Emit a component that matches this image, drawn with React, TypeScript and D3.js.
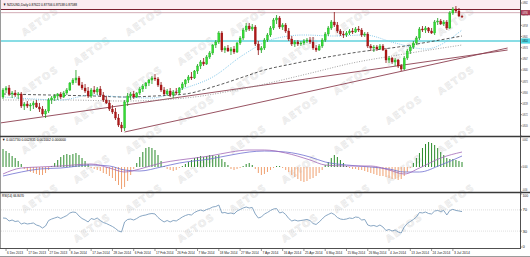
import React from "react";
import * as d3 from "d3";

// ---- Candles: [open, high, low, close] ----
const ohlc: [number, number, number, number][] = [
  [0.8278,0.8332,0.8266,0.8320],[0.8320,0.8344,0.8302,0.8332],[0.8332,0.8350,0.8284,0.8296],[0.8296,0.8314,0.8272,0.8302],
  [0.8302,0.8320,0.8278,0.8290],[0.8290,0.8308,0.8266,0.8296],[0.8296,0.8308,0.8212,0.8224],[0.8224,0.8248,0.8200,0.8236],
  [0.8236,0.8254,0.8212,0.8224],[0.8224,0.8242,0.8194,0.8230],[0.8230,0.8254,0.8206,0.8242],[0.8242,0.8260,0.8212,0.8218],
  [0.8218,0.8242,0.8188,0.8206],[0.8206,0.8224,0.8164,0.8176],[0.8176,0.8206,0.8152,0.8194],[0.8194,0.8272,0.8182,0.8260],
  [0.8260,0.8284,0.8236,0.8272],[0.8272,0.8296,0.8254,0.8284],[0.8284,0.8302,0.8260,0.8296],[0.8296,0.8308,0.8266,0.8278],
  [0.8278,0.8314,0.8272,0.8302],[0.8302,0.8332,0.8290,0.8320],[0.8320,0.8368,0.8314,0.8362],[0.8362,0.8392,0.8350,0.8380],
  [0.8380,0.8440,0.8362,0.8392],[0.8392,0.8404,0.8344,0.8350],[0.8350,0.8368,0.8320,0.8332],[0.8332,0.8356,0.8302,0.8314],
  [0.8314,0.8338,0.8272,0.8284],[0.8284,0.8332,0.8272,0.8320],[0.8320,0.8344,0.8296,0.8308],[0.8308,0.8338,0.8290,0.8326],
  [0.8326,0.8344,0.8278,0.8290],[0.8290,0.8308,0.8248,0.8260],[0.8260,0.8284,0.8236,0.8242],[0.8242,0.8260,0.8194,0.8206],
  [0.8206,0.8230,0.8176,0.8188],[0.8188,0.8212,0.8140,0.8152],[0.8152,0.8176,0.8098,0.8110],[0.8110,0.8128,0.8068,0.8092],
  [0.8092,0.8260,0.8074,0.8248],[0.8248,0.8302,0.8224,0.8284],[0.8284,0.8308,0.8260,0.8296],[0.8296,0.8314,0.8266,0.8278],
  [0.8278,0.8308,0.8272,0.8302],[0.8302,0.8338,0.8290,0.8326],[0.8326,0.8356,0.8308,0.8344],[0.8344,0.8368,0.8326,0.8362],
  [0.8362,0.8386,0.8344,0.8380],[0.8380,0.8404,0.8356,0.8392],[0.8392,0.8416,0.8374,0.8386],[0.8386,0.8398,0.8338,0.8350],
  [0.8350,0.8368,0.8308,0.8320],[0.8320,0.8338,0.8284,0.8296],[0.8296,0.8326,0.8284,0.8314],[0.8314,0.8332,0.8278,0.8290],
  [0.8290,0.8320,0.8272,0.8308],[0.8308,0.8332,0.8290,0.8302],[0.8302,0.8338,0.8290,0.8332],[0.8332,0.8368,0.8320,0.8356],
  [0.8356,0.8386,0.8338,0.8380],[0.8380,0.8410,0.8362,0.8398],[0.8398,0.8428,0.8380,0.8392],[0.8392,0.8440,0.8386,0.8434],
  [0.8434,0.8476,0.8416,0.8464],[0.8464,0.8500,0.8446,0.8488],[0.8488,0.8512,0.8464,0.8476],[0.8476,0.8530,0.8470,0.8518],
  [0.8518,0.8554,0.8506,0.8542],[0.8542,0.8596,0.8530,0.8590],[0.8590,0.8620,0.8572,0.8608],[0.8608,0.8674,0.8596,0.8662],
  [0.8662,0.8674,0.8548,0.8560],[0.8560,0.8584,0.8542,0.8572],[0.8572,0.8590,0.8548,0.8554],[0.8554,0.8578,0.8530,0.8566],
  [0.8566,0.8584,0.8536,0.8548],[0.8548,0.8608,0.8542,0.8602],[0.8602,0.8644,0.8590,0.8632],[0.8632,0.8692,0.8620,0.8680],
  [0.8680,0.8722,0.8668,0.8704],[0.8704,0.8722,0.8674,0.8686],[0.8686,0.8716,0.8674,0.8698],[0.8698,0.8710,0.8584,0.8596],
  [0.8596,0.8614,0.8530,0.8560],[0.8560,0.8584,0.8542,0.8572],[0.8572,0.8632,0.8560,0.8620],[0.8620,0.8662,0.8608,0.8650],
  [0.8650,0.8704,0.8638,0.8692],[0.8692,0.8752,0.8680,0.8740],[0.8740,0.8770,0.8716,0.8752],[0.8752,0.8764,0.8686,0.8698],
  [0.8698,0.8722,0.8680,0.8710],[0.8710,0.8722,0.8662,0.8674],[0.8674,0.8692,0.8614,0.8626],[0.8626,0.8644,0.8584,0.8596],
  [0.8596,0.8620,0.8578,0.8608],[0.8608,0.8620,0.8584,0.8596],[0.8596,0.8614,0.8584,0.8602],[0.8602,0.8626,0.8590,0.8614],
  [0.8614,0.8632,0.8602,0.8620],[0.8620,0.8638,0.8596,0.8608],[0.8608,0.8638,0.8560,0.8572],[0.8572,0.8590,0.8548,0.8560],
  [0.8560,0.8596,0.8554,0.8584],[0.8584,0.8632,0.8572,0.8620],[0.8620,0.8668,0.8608,0.8656],[0.8656,0.8704,0.8644,0.8692],
  [0.8692,0.8740,0.8680,0.8728],[0.8728,0.8788,0.8698,0.8710],[0.8710,0.8728,0.8662,0.8674],[0.8674,0.8686,0.8644,0.8656],
  [0.8656,0.8674,0.8632,0.8650],[0.8650,0.8674,0.8638,0.8662],[0.8662,0.8686,0.8650,0.8674],[0.8674,0.8692,0.8656,0.8668],
  [0.8668,0.8698,0.8662,0.8686],[0.8686,0.8704,0.8668,0.8680],[0.8680,0.8692,0.8638,0.8650],[0.8650,0.8668,0.8638,0.8656],
  [0.8656,0.8668,0.8572,0.8584],[0.8584,0.8596,0.8554,0.8572],[0.8572,0.8590,0.8548,0.8578],[0.8578,0.8590,0.8554,0.8566],
  [0.8566,0.8596,0.8560,0.8584],[0.8584,0.8596,0.8554,0.8560],[0.8560,0.8572,0.8482,0.8500],[0.8500,0.8524,0.8482,0.8512],
  [0.8512,0.8518,0.8476,0.8488],[0.8488,0.8512,0.8464,0.8500],[0.8500,0.8506,0.8452,0.8464],[0.8464,0.8476,0.8434,0.8446],
  [0.8446,0.8524,0.8440,0.8512],[0.8512,0.8566,0.8500,0.8554],[0.8554,0.8590,0.8536,0.8578],[0.8578,0.8614,0.8566,0.8602],
  [0.8602,0.8644,0.8590,0.8632],[0.8632,0.8698,0.8620,0.8686],[0.8686,0.8704,0.8668,0.8680],[0.8680,0.8704,0.8662,0.8692],
  [0.8692,0.8698,0.8662,0.8674],[0.8674,0.8692,0.8656,0.8662],[0.8662,0.8740,0.8650,0.8728],[0.8728,0.8752,0.8710,0.8734],
  [0.8734,0.8746,0.8710,0.8716],[0.8716,0.8740,0.8704,0.8728],[0.8728,0.8740,0.8680,0.8692],[0.8692,0.8794,0.8686,0.8782],
  [0.8782,0.8818,0.8770,0.8806],[0.8806,0.8824,0.8782,0.8794],[0.8794,0.8812,0.8758,0.8764],[0.87622,0.87706,0.87538,0.87588],
];

// ---- Moving averages (sparse readings: bar index -> price) ----
const maFastIdx = [0, 10, 19, 29, 39, 49, 59, 69, 79, 89, 99, 109, 119, 129, 139, 151];
const maFast = [0.8278, 0.8266, 0.8260, 0.8290, 0.8278, 0.8272, 0.8326, 0.8398, 0.8530, 0.8626, 0.8650, 0.8644, 0.8650, 0.8602, 0.8566, 0.8680];
const maMidIdx = [0, 15, 30, 40, 50, 60, 70, 80, 86, 95, 105, 117, 130, 140, 151];
const maMid = [0.8296, 0.8290, 0.8284, 0.8278, 0.8284, 0.8296, 0.8344, 0.8404, 0.8440, 0.8476, 0.8512, 0.8548, 0.8578, 0.8608, 0.8644];
const maSlowIdx = [0, 20, 40, 60, 80, 100, 115, 130, 151];
const maSlow = [0.8260, 0.8260, 0.8254, 0.8272, 0.8332, 0.8416, 0.8482, 0.8530, 0.8590];

// ---- Trend lines and horizontal levels ----
const trendA: [number, number][] = [[-1, 0.8122], [166, 0.856]];
const trendB: [number, number][] = [[40, 0.8068], [166, 0.8572]];
const levelTop = 0.8803;
const levelTop2 = 0.8784;
const levelCyan = 0.8614;

// ---- MACD ----
const macdHist = [
  0.0036,0.0032,0.0028,0.0022,0.0018,0.0012,0.0006,-0.0004,-0.0008,-0.0010,
  -0.0012,-0.0014,-0.0016,-0.0016,-0.0012,-0.0006,0.0002,0.0008,0.0014,0.0020,
  0.0024,0.0026,0.0024,0.0026,0.0028,0.0024,0.0018,0.0012,0.0006,-0.0002,
  -0.0004,-0.0006,-0.0008,-0.0012,-0.0014,-0.0018,-0.0022,-0.0028,-0.0036,-0.0044,
  -0.0040,-0.0028,-0.0016,-0.0004,0.0008,0.0020,0.0030,0.0038,0.0040,0.0038,
  0.0034,0.0024,0.0012,0.0002,-0.0004,-0.0006,-0.0008,-0.0006,-0.0002,0.0002,
  0.0006,0.0010,0.0014,0.0018,0.0020,0.0022,0.0020,0.0022,0.0024,0.0024,
  0.0022,0.0024,0.0016,0.0010,0.0004,-0.0004,-0.0006,-0.0004,-0.0002,0.0002,
  0.0006,0.0008,0.0004,-0.0004,-0.0012,-0.0016,-0.0014,-0.0010,-0.0006,-0.0002,
  0.0002,0.0002,-0.0002,-0.0006,-0.0010,-0.0016,-0.0020,-0.0024,-0.0028,-0.0030,
  -0.0028,-0.0024,-0.0022,-0.0018,-0.0012,-0.0006,0.0004,0.0010,0.0018,0.0024,
  0.0020,0.0014,0.0008,0.0002,-0.0002,-0.0004,-0.0004,-0.0006,-0.0006,-0.0008,
  -0.0010,-0.0012,-0.0014,-0.0016,-0.0018,-0.0018,-0.0020,-0.0022,-0.0024,-0.0024,
  -0.0026,-0.0024,-0.0018,-0.0010,-0.0002,0.0008,0.0018,0.0028,0.0038,0.0046,
  0.0050,0.0048,0.0044,0.0038,0.0030,0.0024,0.0018,0.0016,0.0016,0.0014,
  0.0012,0.0010,
];
const macdLineIdx = [0, 6, 12, 19, 29, 35, 40, 45, 52, 58, 68, 75, 81, 86, 93, 101, 106, 113, 121, 127, 132, 137, 144, 151];
const macdMain = [-0.0014,-0.0002,0,0.0002,0.0006,-0.0002,-0.0010,-0.0004,0.0008,0.0014,0.0022,0.0030,0.0034,0.0034,0.0028,0.0014,0.0004,0.0002,0.0002,-0.0006,-0.0014,-0.0002,0.0018,0.0030];
const macdSignal = [-0.0018,-0.0010,-0.0004,-0.0002,0.0004,0.0002,-0.0006,-0.0008,0,0.0008,0.0016,0.0024,0.0030,0.0032,0.0030,0.0020,0.0010,0.0004,0,-0.0004,-0.0010,-0.0010,0.0004,0.0022];

// ---- RSI(14) ----
const rsi = [
  54.7,54.2,49.1,50.9,48.1,49.1,43.4,45.3,43.4,44.3,
  45.3,41.5,39.6,35.8,39.6,50.0,52.8,54.7,56.6,53.8,
  56.6,59.4,64.2,66.0,65.1,58.5,53.8,50.9,47.2,53.8,
  51.9,54.7,50.0,46.2,44.3,41.5,38.7,34.9,30.2,28.3,
  47.2,51.9,52.8,50.9,53.8,57.5,59.4,60.4,62.3,63.2,
  62.3,55.7,50.9,47.2,50.0,47.2,50.0,49.1,52.8,56.6,
  59.4,61.3,60.4,65.1,67.9,69.8,67.9,70.8,72.6,75.5,
  76.4,79.2,64.2,65.1,63.2,64.2,62.3,67.9,70.8,73.6,
  75.5,73.6,74.5,62.3,54.7,56.6,62.3,65.1,68.9,71.7,
  72.6,64.2,66.0,61.3,53.8,49.1,50.9,49.1,50.0,50.9,
  51.9,50.0,44.3,42.5,47.2,52.8,58.5,61.3,64.2,61.3,
  55.7,52.8,51.9,52.8,54.7,53.8,56.6,55.7,50.9,51.9,
  41.5,39.6,40.6,38.7,41.5,37.7,31.1,33.0,30.2,32.1,
  28.3,26.4,37.7,44.3,48.1,51.9,56.6,65.1,64.2,66.0,
  63.2,62.3,67.9,68.9,67.0,68.9,60.4,68.9,71.1,68.9,
  68.0,66.8,
];

// ---- Axis labels ----
const priceTicks = [0.8842, 0.8775, 0.8708, 0.8641, 0.8574, 0.8507, 0.844, 0.8373, 0.8306, 0.8239, 0.8172, 0.8105];
const macdTicks = [0.0062, 0, -0.005];
const macdTickLabels = ["0.0062", "0.00", "-0.0050"];
const rsiTicks = [100, 70, 30, 0];
const dateIdx = [1, 8, 15, 22, 29, 36, 43, 50, 57, 64, 71, 78, 85, 92, 99, 106, 113, 120, 127, 134, 141, 148];
const dateLabels = [
  "6 Dec 2013", "17 Dec 2013", "27 Dec 2013", "8 Jan 2014", "17 Jan 2014", "28 Jan 2014", "6 Feb 2014",
  "17 Feb 2014", "26 Feb 2014", "7 Mar 2014", "18 Mar 2014", "27 Mar 2014", "7 Apr 2014", "16 Apr 2014",
  "25 Apr 2014", "6 May 2014", "15 May 2014", "26 May 2014", "4 Jun 2014", "13 Jun 2014", "24 Jun 2014", "3 Jul 2014",
];

const FONT = "'Liberation Sans', Arial, sans-serif";

export default function App() {
  const W = 530;
  const H = 257;
  const n = ohlc.length;
  const AX = 520;
  const x = d3.scaleLinear().domain([0, n - 1]).range([3, 462]);
  const yP = d3.scaleLinear().domain([0.8062, 0.886]).range([133, 0]);
  const yM = d3.scaleLinear().domain([-0.005, 0.0062]).range([192, 136]);
  const yR = d3.scaleLinear().domain([0, 100]).range([247, 194]);

  const sparse = (idx: number[], vals: number[], ys: any) =>
    d3.line<number>().x((_, k) => x(idx[k])).y((v) => ys(v)).curve(d3.curveMonotoneX)(vals) || "";
  const seg = (pts: [number, number][]) =>
    d3.line<[number, number]>().x((d) => x(d[0])).y((d) => yP(d[1]))(pts) || "";
  const rsiPath = d3.line<number>().x((_, i) => x(i)).y((v) => yR(v))(rsi) || "";

  const marks: JSX.Element[] = [];
  for (let r = 0; r < 8; r++) {
    for (let c = 0; c < 5; c++) {
      const cx = 42 + 104 * c + (r % 2) * 52;
      const cy = 24 + 29.5 * r;
      if (cx > 505) continue;
      marks.push(
        <text key={`w${r}-${c}`} transform={`translate(${cx},${cy}) rotate(-35)`} textAnchor="middle"
          fontFamily="'DejaVu Sans', sans-serif" fontWeight="bold" fontSize={9.5} letterSpacing={1.5}
          fill="#f3f3f3" stroke="#e2e2e2" strokeWidth={0.35}>AETOS</text>
      );
    }
  }

  // right-axis labels: horizontally compressed into the narrow strip right of the axis
  const axisText = (key: string, y: number, label: string, fill = "#222") => {
    const natural = label.length * 2.35;
    const sx = Math.min(1, 5.8 / natural);
    return (
      <text key={key} transform={`translate(${AX + 2.4},${y}) scale(${sx},1)`} fontFamily={FONT}
        fontSize={4.2} fill={fill}>{label}</text>
    );
  };

  return (
    <svg width={W} height={H} style={{ position: "absolute", left: 0, top: 0, background: "#fff" }}>
      <defs>
        <clipPath id="mainClip"><rect x={1} y={0} width={AX - 1} height={136} /></clipPath>
        <clipPath id="macdClip"><rect x={1} y={137} width={AX - 1} height={55} /></clipPath>
        <clipPath id="rsiClip"><rect x={1} y={193} width={AX - 1} height={55} /></clipPath>
      </defs>
      <rect x={0} y={0} width={W} height={H} fill="#fff" />
      <g>{marks}</g>

      {/* main panel */}
      <g clipPath="url(#mainClip)">
        <rect x={1} y={0} width={AX - 1} height={yP(levelTop)} fill="#fbecf1" />
        <line x1={1} x2={AX} y1={yP(levelTop)} y2={yP(levelTop)} stroke="#7a2030" strokeWidth={1} />
        <line x1={1} x2={AX} y1={yP(levelTop2)} y2={yP(levelTop2)} stroke="#c898a4" strokeWidth={0.8} />
        <line x1={1} x2={AX} y1={yP(levelCyan)} y2={yP(levelCyan)} stroke="#62d2dc" strokeWidth={1.6} />
        <path d={seg(trendA)} fill="none" stroke="#8c4050" strokeWidth={0.9} />
        <path d={seg(trendB)} fill="none" stroke="#8c4050" strokeWidth={0.9} />
        <path d={sparse(maSlowIdx, maSlow, yP)} fill="none" stroke="#8a8a8a" strokeWidth={0.8} strokeDasharray="1,1.5" />
        <path d={sparse(maMidIdx, maMid, yP)} fill="none" stroke="#333" strokeWidth={0.8} strokeDasharray="3,2" />
        <path d={sparse(maFastIdx, maFast, yP)} fill="none" stroke="#7cc4e8" strokeWidth={0.9} strokeDasharray="1,1.2" />
        {ohlc.map(([o, h, l, c], i) => {
          const up = c >= o;
          const cx = x(i);
          const top = yP(Math.max(o, c));
          const bh = Math.max(0.8, Math.abs(yP(o) - yP(c)));
          return (
            <g key={i}>
              <line x1={cx} x2={cx} y1={yP(h)} y2={yP(l)} stroke={up ? "#139a13" : "#8b0c0c"} strokeWidth={0.8} />
              <rect x={cx - 1} y={top} width={2} height={bh} fill={up ? "#33dd33" : "#b01818"} stroke={up ? "#139a13" : "#8b0c0c"} strokeWidth={0.3} />
            </g>
          );
        })}
      </g>
      <text x={3} y={5.6} fontFamily={FONT} fontSize={4.3} textLength={74} lengthAdjust="spacingAndGlyphs" fill="#000">
        ▼ NZDUSD,Daily 0.87622 0.87706 0.87538 0.87588
      </text>

      {/* MACD panel */}
      <g clipPath="url(#macdClip)">
        {macdHist.map((v, i) => (
          <line key={i} x1={x(i)} x2={x(i)} y1={yM(0)} y2={yM(v)} stroke={v >= 0 ? "#2a8a2a" : "#f0a070"} strokeWidth={1} />
        ))}
        <path d={sparse(macdLineIdx, macdSignal, yM)} fill="none" stroke="#6f6fd0" strokeWidth={0.8} />
        <path d={sparse(macdLineIdx, macdMain, yM)} fill="none" stroke="#a268b8" strokeWidth={0.8} />
      </g>
      <text x={2} y={140.8} fontFamily={FONT} fontSize={4} textLength={64} lengthAdjust="spacingAndGlyphs" fill="#000">
        ▼ 0.001730 0.002831 0.001002 0.000000
      </text>

      {/* RSI panel */}
      <g clipPath="url(#rsiClip)">
        <line x1={1} x2={AX} y1={yR(70)} y2={yR(70)} stroke="#c8c8c8" strokeWidth={0.6} strokeDasharray="1,1" />
        <line x1={1} x2={AX} y1={yR(30)} y2={yR(30)} stroke="#c8c8c8" strokeWidth={0.6} strokeDasharray="1,1" />
        <path d={rsiPath} fill="none" stroke="#7a9cbc" strokeWidth={0.9} />
      </g>
      <text x={2} y={196.8} fontFamily={FONT} fontSize={4} textLength={22} lengthAdjust="spacingAndGlyphs" fill="#000">
        RSI(14) 66.8470
      </text>

      {/* frames and separators */}
      <line x1={0.5} x2={0.5} y1={0} y2={249} stroke="#9a9a9a" strokeWidth={1} />
      <line x1={AX + 0.5} x2={AX + 0.5} y1={0} y2={249} stroke="#505050" strokeWidth={1} />
      <line x1={0} x2={W} y1={136.5} y2={136.5} stroke="#3a3a3a" strokeWidth={1.6} />
      <line x1={0} x2={W} y1={192.5} y2={192.5} stroke="#3a3a3a" strokeWidth={1.6} />
      <line x1={0} x2={AX + 1} y1={248.5} y2={248.5} stroke="#505050" strokeWidth={1} />
      <line x1={0} x2={W} y1={256.5} y2={256.5} stroke="#9a9a9a" strokeWidth={1} />

      {/* price axis */}
      {priceTicks.map((p) => (
        <g key={p}>
          <line x1={AX} x2={AX + 2} y1={yP(p)} y2={yP(p)} stroke="#505050" strokeWidth={0.6} />
          {axisText(`pt${p}`, yP(p) + 1.4, p.toFixed(4))}
        </g>
      ))}
      <rect x={AX + 1} y={yP(levelTop2) - 2.6} width={W - AX} height={5.2} fill="#a83a55" />
      {axisText("lv2", yP(levelTop2) + 1.4, levelTop2.toFixed(4), "#fff")}
      <rect x={AX + 1} y={yP(levelCyan) - 2.6} width={W - AX} height={5.2} fill="#4fd8e4" />
      {axisText("lvc", yP(levelCyan) + 1.4, levelCyan.toFixed(4), "#000")}

      {/* MACD axis */}
      {macdTicks.map((v, k) => (
        <g key={`m${k}`}>
          <line x1={AX} x2={AX + 2} y1={yM(v)} y2={yM(v)} stroke="#505050" strokeWidth={0.6} />
          {axisText(`mt${k}`, Math.min(Math.max(yM(v) + 1.4, 140.5), 191), macdTickLabels[k])}
        </g>
      ))}

      {/* RSI axis */}
      {rsiTicks.map((v) => (
        <g key={`r${v}`}>
          <line x1={AX} x2={AX + 2} y1={yR(v)} y2={yR(v)} stroke="#505050" strokeWidth={0.6} />
          {axisText(`rt${v}`, Math.min(Math.max(yR(v) + 1.4, 197), 247.5), String(v))}
        </g>
      ))}

      {/* time axis */}
      {dateIdx.map((idx, k) => (
        <g key={`d${k}`}>
          <line x1={x(idx)} x2={x(idx)} y1={248.5} y2={251} stroke="#505050" strokeWidth={0.6} />
          <text x={x(idx) + 1} y={253.6} fontFamily={FONT} fontSize={4}
            textLength={dateLabels[k].length * 1.6} lengthAdjust="spacingAndGlyphs" fill="#222">{dateLabels[k]}</text>
        </g>
      ))}
    </svg>
  );
}
